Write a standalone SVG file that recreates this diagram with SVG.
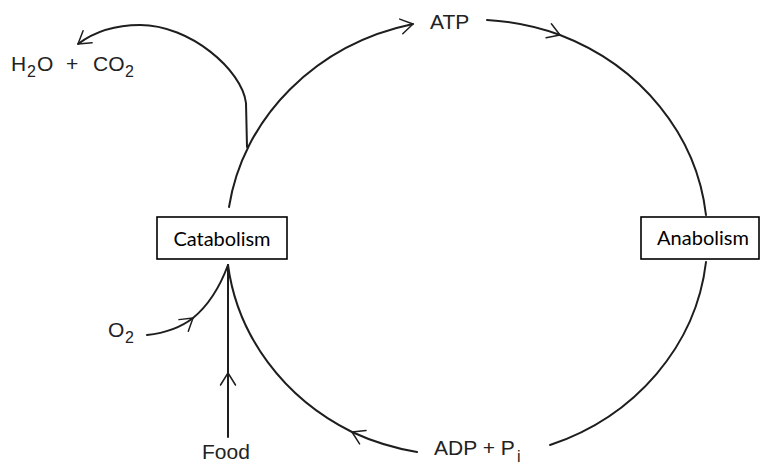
<svg xmlns="http://www.w3.org/2000/svg" width="761" height="464" viewBox="0 0 761 464">
<style>
.ln{fill:none;stroke:#1e1e1e;stroke-width:2;stroke-linecap:round;stroke-linejoin:round}
.lbl{font-family:"Liberation Sans",Arial,sans-serif;font-size:21px;fill:#222}
.sub{font-size:16px}
.box{fill:#fff;stroke:#000;stroke-width:1.6}
.bt{font-family:Lato,"Open Sans",sans-serif;font-size:20px;fill:#000;text-anchor:middle}
</style>
<defs>
<marker id="arr" markerUnits="userSpaceOnUse" viewBox="-16 -16 32 32" markerWidth="32" markerHeight="32" refX="0" refY="0" orient="auto" overflow="visible">
<path d="M -12 -7.5 L 0 0 L -12 7.5" fill="none" stroke="#1e1e1e" stroke-width="1.5" stroke-linecap="round" stroke-linejoin="round"/>
</marker>
</defs>
<rect width="761" height="464" fill="#fff"/>
<g id="connectors">
<path class="ln" d="M 229 207 A 239 220 0 0 1 413 24" marker-end="url(#arr)"/>
<path class="ln" d="M 487 20 A 239 220 0 0 1 560 35 A 239 220 0 0 1 706 215" marker-mid="url(#arr)"/>
<path class="ln" d="M 706 262 A 239 220 0 0 1 550 445"/>
<path class="ln" d="M 417 452 A 239 220 0 0 1 352 432 A 239 220 0 0 1 228 265" marker-mid="url(#arr)"/>
<path class="ln" d="M 247 147 L 246 103 C 242 70 190 25 140 25 C 110 25 90 35 78 44" marker-end="url(#arr)"/>
<path class="ln" d="M 228 437 L 228 373 L 228 265" marker-mid="url(#arr)" stroke-width="2.4"/>
<path class="ln" d="M 147 335 Q 175 332 193 318 Q 215 300 228 265" marker-mid="url(#arr)"/>
</g>
<g id="node-catabolism">
<rect class="box" x="157" y="217" width="130" height="42"/>
<text class="bt" x="222" y="246" textLength="97">Catabolism</text>
</g>
<g id="node-anabolism">
<rect class="box" x="641" y="217" width="118" height="42"/>
<text class="bt" x="703" y="245" textLength="92">Anabolism</text>
</g>
<g id="node-atp">
<text class="lbl" x="430" y="29">ATP</text>
</g>
<g id="node-adp">
<text class="lbl" x="434" y="455">ADP + P<tspan class="sub" x="517" y="462" font-size="14">i</tspan></text>
</g>
<g id="node-h2o-co2">
<text class="lbl" x="11" y="71">H<tspan class="sub" x="27" y="77">2</tspan><tspan x="37" y="71">O</tspan><tspan x="66">+</tspan><tspan x="93">CO</tspan><tspan class="sub" x="125" y="77">2</tspan></text>
</g>
<g id="node-o2">
<text class="lbl" x="108" y="337">O<tspan class="sub" x="125" y="343">2</tspan></text>
</g>
<g id="node-food">
<text class="lbl" x="202" y="459" font-size="21.5">Food</text>
</g>
</svg>
